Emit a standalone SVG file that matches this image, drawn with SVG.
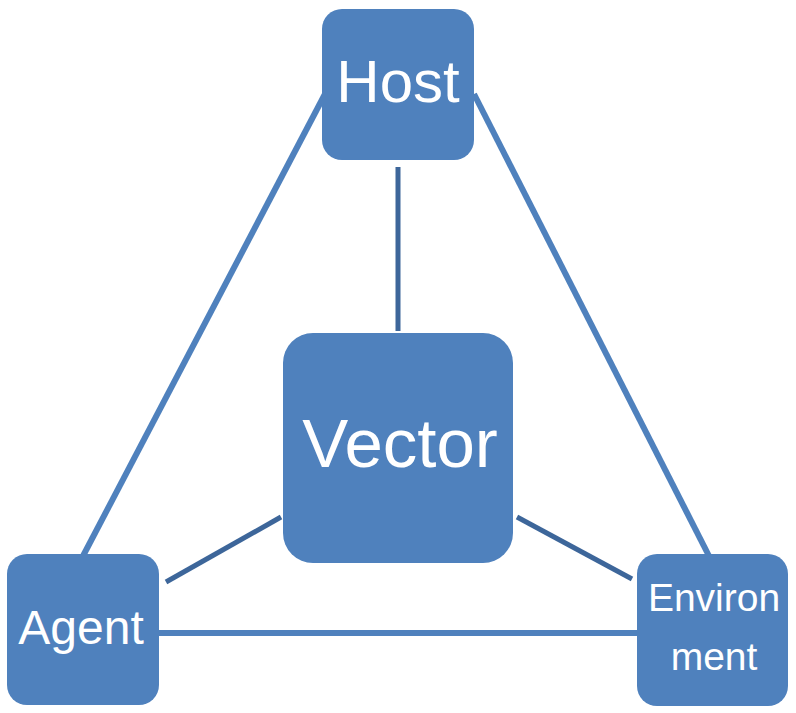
<svg xmlns="http://www.w3.org/2000/svg" width="796" height="713" viewBox="0 0 796 713">
<style>
.box{fill:#4f81bd}
.outer{stroke:#4f81bd;stroke-width:6;fill:none}
.inner{stroke:#3d669a;stroke-width:5;fill:none}
text{font-family:"Liberation Sans",Arial,sans-serif;fill:#ffffff;text-anchor:middle}
</style>
<rect width="796" height="713" fill="#ffffff"/>
<g id="connectors">
<line class="outer" x1="83" y1="556" x2="325" y2="94"/>
<line class="outer" x1="474" y1="94" x2="709" y2="556"/>
<line class="outer" x1="158" y1="633" x2="638" y2="633"/>
<line class="inner" x1="398" y1="167" x2="398" y2="331"/>
<line class="inner" x1="166" y1="582" x2="281" y2="517"/>
<line class="inner" x1="517" y1="517" x2="632" y2="579"/>
</g>
<g id="host">
<rect class="box" x="322" y="9" width="152" height="151" rx="20"/>
<text x="398" y="102" font-size="60">Host</text>
</g>
<g id="vector">
<rect class="box" x="283" y="333" width="230" height="230" rx="30"/>
<text x="400" y="467" font-size="69">Vector</text>
</g>
<g id="agent">
<rect class="box" x="7" y="554" width="152" height="151" rx="20"/>
<text x="81" y="644" font-size="48">Agent</text>
</g>
<g id="environment">
<rect class="box" x="637" y="554" width="151" height="152" rx="20"/>
<text x="714" y="611" font-size="39">Environ</text>
<text x="714" y="670" font-size="39">ment</text>
</g>
</svg>
